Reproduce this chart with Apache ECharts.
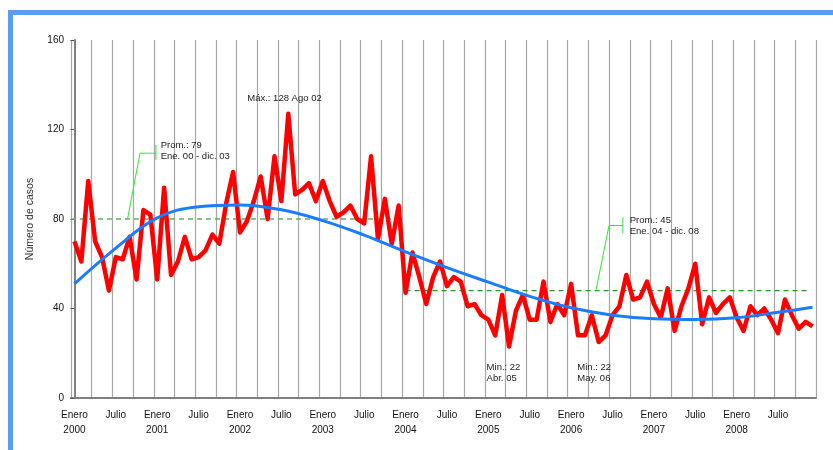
<!DOCTYPE html>
<html>
<head>
<meta charset="utf-8">
<script src="https://cdn.jsdelivr.net/npm/echarts@6/dist/echarts.min.js"></script>
<style>
  html, body { margin: 0; padding: 0; background: #fff; }
  #chart { width: 833px; height: 450px; }
</style>
</head>
<body>
<div id="chart"></div>
<script>
// monthly categories Jan 2000 .. Dec 2008
const years = [2000, 2001, 2002, 2003, 2004, 2005, 2006, 2007, 2008];
const months = [];
years.forEach(function (y) {
  for (let m = 1; m <= 12; m++) months.push(y + "-" + (m < 10 ? "0" + m : m));
});

// monthly number of cases
const cases = [
  70, 61, 97, 70, 63, 48, 63, 62, 72, 53, 84, 82,
  53, 94, 55, 61, 72, 62, 63, 66, 73, 69, 87, 101,
  74, 79, 88, 99, 80, 108, 88, 127, 91, 93, 96, 88,
  97, 88, 81, 83, 86, 80, 78, 108, 71, 89, 69, 86,
  47, 65, 54, 42, 54, 61, 50, 54, 52, 41, 42, 37,
  35, 28, 46, 23, 39, 46, 35, 35, 52, 34, 42, 37,
  51, 28, 28, 37, 25, 28, 37, 41, 55, 44, 45, 52,
  42, 36, 49, 30, 41, 49, 60, 33, 45, 38, 42, 45,
  36, 30, 41, 37, 40, 35, 29, 44, 37, 31, 34, 32
];

// smooth trend curve, sampled every 6 months
const trendMonths = [0, 6, 12, 18, 24, 30, 36, 42, 48, 54, 60, 66, 72, 78, 84, 90, 96, 102, 107];
const trendValues = [51, 67, 80.5, 85.5, 86.3, 84.1, 79.3, 72.8, 65.3, 58.3, 51.8, 45.4, 40.3, 37, 35.4, 35.1, 35.9, 38.3, 40.6];

// period averages (level as drawn, month span)
const avgLevels = [80, 48];
const avgSpans = [[-0.5, 46.5], [48, 106.3]];
const avgColors = ["#5fb35f", "#239a23"];

const yMin = 0, yMax = 160, yStep = 40;

const font = "Liberation Sans, Arial, sans-serif";
const myChart = echarts.init(document.getElementById("chart"));

const series = [];
avgLevels.forEach(function (lvl, i) {
  series.push({
    type: "line",
    xAxisIndex: 1,
    data: [[avgSpans[i][0], lvl], [avgSpans[i][1], lvl]],
    symbol: "none",
    silent: true,
    lineStyle: { color: avgColors[i], width: 1.3, type: [5, 4] }
  });
});
series.push({
  name: "Casos",
  type: "line",
  data: cases,
  symbol: "none",
  lineStyle: { color: "#ff0000", width: 4.5, join: "round" }
});
series.push({
  name: "Tendencia",
  type: "line",
  xAxisIndex: 1,
  data: trendMonths.map(function (m, i) { return [m, trendValues[i]]; }),
  symbol: "none",
  smooth: 0.4,
  lineStyle: { color: "#1a7cff", width: 3 }
});

const option = {
  animation: false,
  backgroundColor: "#fff",
  grid: { left: 71, right: 17, top: 40, bottom: 52 },
  xAxis: [
    {
      type: "category",
      data: months,
      boundaryGap: true,
      axisLine: { lineStyle: { color: "#808080", width: 2 } },
      axisTick: {
        interval: function (idx) { return idx % 3 === 0; },
        length: 4,
        lineStyle: { color: "#555" }
      },
      axisLabel: {
        interval: function (idx) { return idx % 6 === 0; },
        formatter: function (value, idx) {
          return idx % 12 === 0 ? "Enero\n" + value.slice(0, 4) : "Julio";
        },
        color: "#111",
        fontSize: 10,
        fontFamily: font,
        lineHeight: 15,
        margin: 10
      },
      splitLine: {
        show: true,
        interval: function (idx) { return idx % 3 === 0; },
        lineStyle: { color: "#a6a6a6", width: 1.2 }
      }
    },
    {
      type: "value",
      min: -0.5,
      max: 107.5,
      show: false
    }
  ],
  yAxis: {
    type: "value",
    min: yMin,
    max: yMax,
    interval: yStep,
    name: "Número de casos",
    nameLocation: "middle",
    nameGap: 35,
    nameTextStyle: { color: "#333", fontSize: 10.5, fontFamily: font },
    axisLine: { show: true, lineStyle: { color: "#808080", width: 2 } },
    axisTick: { show: true, length: 4, lineStyle: { color: "#555" } },
    axisLabel: { color: "#111", fontSize: 10, fontFamily: font, margin: 7 },
    splitLine: { show: false }
  },
  series: series
};

myChart.setOption(option);

// annotations anchored in data space (month, cases)
function px(m, v) {
  return myChart.convertToPixel({ xAxisIndex: 1, yAxisIndex: 0 }, [m, v]);
}
function callout(path, bx, b0, b1, tm, tv, text) {
  return [
    { type: "polyline", shape: { points: path.map(function (p) { return px(p[0], p[1]); }) },
      style: { stroke: "#33e633", lineWidth: 1, fill: null }, z: 20 },
    { type: "line", shape: { x1: px(bx, b0)[0], y1: px(bx, b0)[1], x2: px(bx, b1)[0], y2: px(bx, b1)[1] },
      style: { stroke: "#33e633", lineWidth: 1 }, z: 20 },
    label(tm, tv, text)
  ];
}
function label(m, v, text) {
  const p = px(m, v);
  return { type: "text", x: p[0], y: p[1], z: 20,
    style: { text: text, fill: "#222", fontSize: 9.5, fontFamily: font,
      align: "left", verticalAlign: "middle", lineHeight: 11 } };
}

const graphics = [
  { type: "rect", shape: { x: 8, y: 10, width: 825, height: 5 }, style: { fill: "#5b9cf5" }, z: 30 },
  { type: "rect", shape: { x: 8, y: 10, width: 5, height: 440 }, style: { fill: "#5b9cf5" }, z: 30 }
]
  .concat(callout([[7.7, 80], [9.5, 109.4], [11.8, 109.4]], 11.8, 106.4, 113.1, 12.5, 110.4, "Prom.: 79\nEne. 00 - dic. 03"))
  .concat(callout([[75.6, 48], [77.5, 77.1], [79.5, 77.1]], 79.5, 73.7, 80.8, 80.5, 77, "Prom.: 45\nEne. 04 - dic. 08"))
  .concat([
    label(25.05, 133.9, "Máx.: 128 Ago 02"),
    label(59.75, 11.4, "Min.: 22\nAbr. 05"),
    label(72.9, 11.25, "Min.: 22\nMay. 06")
  ]);

myChart.setOption({ graphic: graphics });
</script>
</body>
</html>
